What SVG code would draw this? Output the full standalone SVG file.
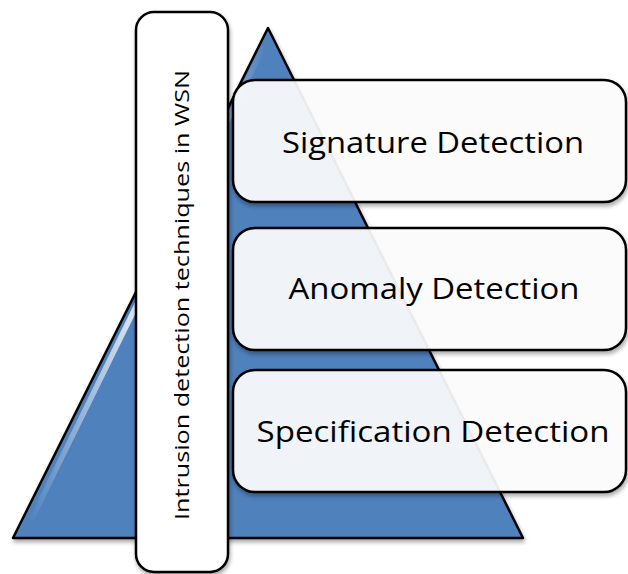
<svg xmlns="http://www.w3.org/2000/svg" width="628" height="574" viewBox="0 0 628 574">
<style>
.box{fill:#ffffff;fill-opacity:0.9;stroke:#000;stroke-width:2.5}
.solid{fill-opacity:1}
.lbl{font-family:"Open Sans","Liberation Sans",sans-serif;font-size:30px;fill:#000;text-anchor:middle}
.vlbl{font-family:"Open Sans","Liberation Sans",sans-serif;font-size:20px;fill:#000;text-anchor:middle}
</style>
<defs>
<filter id="sh" x="-10%" y="-10%" width="120%" height="120%">
<feGaussianBlur in="SourceAlpha" stdDeviation="2"/>
<feOffset dx="1" dy="3"/>
<feComponentTransfer><feFuncA type="linear" slope="0.35"/></feComponentTransfer>
<feMerge><feMergeNode/><feMergeNode in="SourceGraphic"/></feMerge>
</filter>
<linearGradient id="gl" x1="0" y1="0" x2="1" y2="0">
<stop offset="0" stop-color="#ffffff" stop-opacity="0"/>
<stop offset="0.5" stop-color="#ffffff" stop-opacity="0.9"/>
<stop offset="1" stop-color="#ffffff" stop-opacity="0"/>
</linearGradient>
</defs>
<g id="pyramid">
<polygon points="268,28 13,538 523,538" fill="#4f81bd" stroke="#000" stroke-width="2.5" stroke-linejoin="round" filter="url(#sh)"/>
<polygon points="262,44 28,520 34,520 266,48" fill="url(#gl)"/>
</g>
<g id="title">
<rect x="136" y="12" width="92" height="560" rx="18" class="box solid" filter="url(#sh)"/>
<text class="vlbl" transform="translate(189,295) rotate(-90)" textLength="450" lengthAdjust="spacingAndGlyphs">Intrusion detection techniques in WSN</text>
</g>
<g id="signature">
<rect x="233" y="80" width="393" height="122" rx="22" class="box" filter="url(#sh)"/>
<text class="lbl" x="433" y="153" textLength="302" lengthAdjust="spacingAndGlyphs">Signature Detection</text>
</g>
<g id="anomaly">
<rect x="233" y="228" width="393" height="122" rx="22" class="box" filter="url(#sh)"/>
<text class="lbl" x="434" y="299" textLength="291" lengthAdjust="spacingAndGlyphs">Anomaly Detection</text>
</g>
<g id="specification">
<rect x="233" y="370" width="393" height="122" rx="22" class="box" filter="url(#sh)"/>
<text class="lbl" x="433" y="442" textLength="353" lengthAdjust="spacingAndGlyphs">Specification Detection</text>
</g>
<g id="connectors"/>
</svg>
